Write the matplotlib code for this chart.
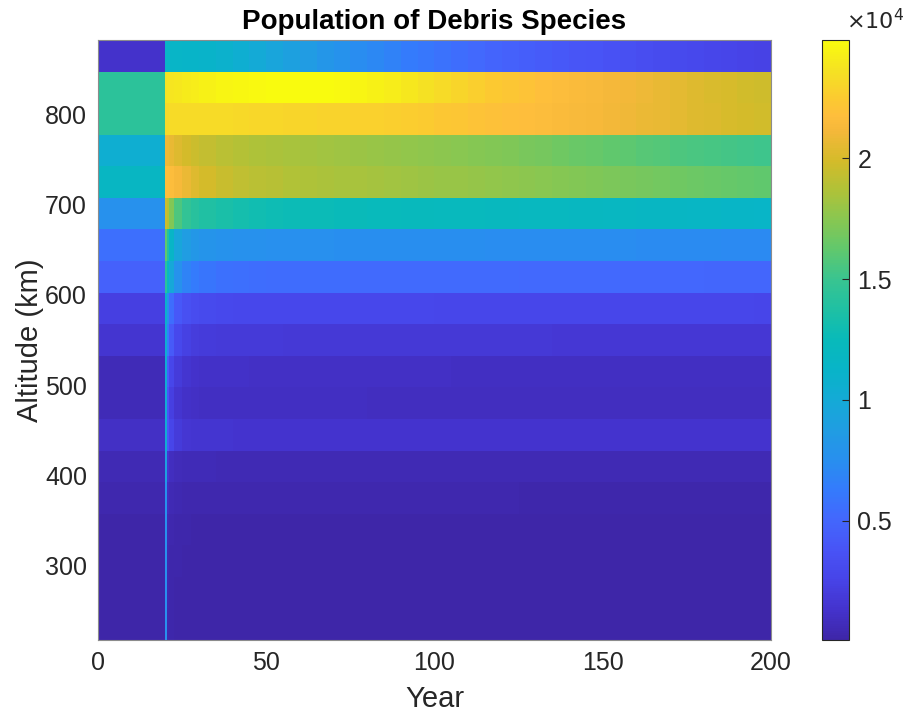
import numpy as np
import matplotlib
matplotlib.use("Agg")
import matplotlib.pyplot as plt
from matplotlib.colors import LinearSegmentedColormap

# ---------------- data ----------------
# altitude band centres (km), 35 km wide shells
altitudes = [235, 270, 305, 340, 375, 410, 445, 480, 515, 550,
             585, 620, 655, 690, 725, 760, 795, 830, 865]
band_width = 35

# time-column edges (years): initial state, launch spike, then evolution
year_edges = [0, 20, 20.4, 21, 22.5, 25, 27.5, 30, 35, 40, 45, 50, 55, 60,
              65, 70, 75, 80, 85, 90, 95, 100, 105, 110, 115, 120, 125, 130,
              135, 140, 145, 150, 155, 160, 165, 170, 175, 180, 185, 190, 195, 200]

# population per altitude band, one value per time column
pop_235 = [60, 7600, 300, 150, 100, 80, 70,
           65, 64, 63, 62, 61, 60, 60, 60, 59, 59, 59, 58, 58, 58, 57, 57, 57,
           56, 56, 56, 55, 55, 55, 54, 54, 54, 53, 53, 53, 52, 52, 52, 51, 51]
pop_270 = [80, 7600, 350, 180, 120, 100, 90,
           85, 84, 83, 82, 81, 80, 80, 80, 79, 79, 79, 78, 78, 78, 77, 77, 77,
           76, 76, 76, 75, 75, 75, 74, 74, 74, 73, 73, 73, 72, 72, 72, 71, 71]
pop_305 = [100, 7700, 400, 200, 150, 120, 110,
           105, 104, 103, 102, 101, 100, 100, 100, 99, 99, 99, 98, 98, 98, 97, 97, 97,
           96, 96, 96, 95, 95, 95, 94, 94, 94, 93, 93, 93, 92, 92, 92, 91, 91]
pop_340 = [130, 7700, 500, 260, 190, 160, 145,
           140, 138, 136, 135, 134, 133, 132, 132, 131, 131, 130, 130, 130, 129, 129, 128,
           128, 128, 127, 127, 126, 126, 126, 125, 125, 125, 124, 124, 124, 123, 123, 123, 122, 122]
pop_375 = [250, 7800, 900, 500, 350, 300, 280,
           270, 265, 262, 260, 258, 257, 256, 255, 254, 253, 252, 251, 250, 250, 249, 248,
           247, 246, 246, 245, 244, 244, 243, 242, 242, 241, 240, 240, 239, 238, 238, 237, 236, 236]
pop_410 = [480, 9000, 1500, 900, 700, 600, 560,
           540, 530, 520, 515, 512, 510, 508, 506, 504, 502, 500, 500, 498, 497, 496, 495,
           494, 493, 492, 491, 490, 490, 489, 488, 487, 486, 485, 485, 484, 483, 482, 481, 480, 480]
pop_445 = [1100, 10300, 4000, 2600, 1900, 1600, 1500,
           1450, 1420, 1400, 1390, 1385, 1380, 1378, 1375, 1372, 1370, 1368, 1365, 1362, 1360,
           1358, 1355, 1352, 1350, 1350, 1348, 1346, 1344, 1342, 1340, 1340, 1338, 1336, 1334,
           1332, 1330, 1330, 1328, 1326, 1324]
pop_480 = [550, 10200, 3800, 2200, 1500, 1200, 1050,
           1000, 980, 965, 955, 950, 945, 940, 935, 930, 925, 920, 918, 915, 912, 910, 908,
           905, 902, 900, 898, 895, 892, 890, 888, 885, 882, 880, 878, 875, 872, 870, 868, 865, 862]
pop_515 = [620, 10400, 4500, 2700, 1900, 1500, 1300,
           1200, 1150, 1120, 1100, 1090, 1080, 1070, 1060, 1055, 1050, 1045, 1040, 1035, 1030,
           1025, 1020, 1015, 1010, 1005, 1000, 1000, 995, 995, 990, 990, 985, 985, 980, 980,
           975, 975, 970, 970, 965]
pop_550 = [1500, 10500, 6500, 4200, 2900, 2300, 2050,
           1920, 1860, 1830, 1810, 1800, 1790, 1780, 1770, 1765, 1760, 1755, 1750, 1745, 1740,
           1735, 1730, 1725, 1720, 1715, 1710, 1705, 1700, 1700, 1695, 1690, 1690, 1685, 1680,
           1680, 1675, 1670, 1670, 1665, 1660]
pop_585 = [2200, 11000, 7800, 5400, 4100, 3500, 3200,
           3000, 2900, 2860, 2840, 2830, 2820, 2810, 2800, 2795, 2790, 2785, 2780, 2775, 2770,
           2765, 2760, 2755, 2750, 2745, 2740, 2735, 2730, 2725, 2720, 2715, 2710, 2705, 2700,
           2695, 2690, 2685, 2680, 2675, 2670]
pop_620 = [4700, 14400, 12000, 9800, 7800, 6800, 6300,
           5900, 5650, 5500, 5420, 5380, 5350, 5330, 5310, 5300, 5290, 5280, 5270, 5260, 5250,
           5240, 5230, 5220, 5210, 5200, 5190, 5180, 5170, 5150, 5130, 5110, 5090, 5070, 5050,
           5030, 5010, 4990, 4970, 4950, 4930]
pop_655 = [5500, 16200, 14000, 11500, 9600, 8700, 8300,
           8000, 7800, 7700, 7650, 7600, 7580, 7560, 7540, 7520, 7500, 7490, 7480, 7470, 7460,
           7450, 7440, 7430, 7420, 7410, 7400, 7390, 7380, 7370, 7360, 7350, 7340, 7320, 7300,
           7280, 7260, 7240, 7220, 7200, 7180]
pop_690 = [7700, 19700, 19000, 17300, 15600, 14700, 14200,
           13800, 13450, 13200, 13000, 12850, 12750, 12650, 12580, 12520, 12480, 12440, 12400,
           12360, 12320, 12280, 12240, 12200, 12160, 12120, 12080, 12040, 12000, 11960, 11920,
           11880, 11830, 11780, 11720, 11660, 11600, 11540, 11480, 11420, 11350]
pop_725 = [11700, 21700, 21700, 21600, 21300, 20800, 20300,
           19900, 19500, 19250, 19050, 18900, 18780, 18680, 18580, 18480, 18400, 18320, 18240,
           18160, 18080, 18000, 17920, 17840, 17760, 17680, 17600, 17500, 17400, 17300, 17200,
           17100, 17000, 16900, 16800, 16700, 16600, 16500, 16400, 16300, 16200]
pop_760 = [10500, 21000, 20900, 20700, 20300, 19900, 19600,
           19300, 19000, 18800, 18650, 18550, 18450, 18350, 18250, 18150, 18050, 17950, 17850,
           17750, 17650, 17550, 17450, 17350, 17250, 17150, 17000, 16850, 16700, 16550, 16400,
           16250, 16100, 15950, 15800, 15650, 15500, 15400, 15300, 15200, 15100]
pop_795 = [14400, 23200, 23200, 23250, 23250, 23300, 23300,
           23300, 23250, 23200, 23150, 23100, 23050, 23000, 22950, 22900, 22850, 22780, 22700,
           22600, 22480, 22350, 22200, 22050, 21900, 21800, 21700, 21600, 21500, 21400, 21250,
           21100, 20950, 20800, 20650, 20450, 20300, 20150, 20000, 19900, 19800]
pop_830 = [14400, 23700, 23750, 23800, 23900, 24050, 24200,
           24350, 24550, 24700, 24800, 24880, 24900, 24880, 24820, 24720, 24580, 24400, 24150,
           23900, 23600, 23300, 23000, 22700, 22450, 22200, 22000, 21800, 21650, 21500, 21350,
           21200, 21050, 20850, 20650, 20450, 20250, 20100, 19950, 19800, 19700]
pop_865 = [1250, 11400, 11400, 11380, 11350, 11300, 11250,
           11150, 10900, 10500, 10000, 9500, 9000, 8600, 8200, 7800, 7400, 7050, 6700, 6350,
           6000, 5700, 5400, 5150, 4900, 4650, 4450, 4250, 4050, 3900, 3750, 3600, 3450, 3300,
           3150, 3000, 2880, 2750, 2630, 2520, 2400]

cbar_ticks = [5000, 10000, 15000, 20000]
cbar_ticklabels = ["0.5", "1", "1.5", "2"]
y_ticks = [300, 400, 500, 600, 700, 800]
x_ticks = [0, 50, 100, 150, 200]

population = np.array([pop_235, pop_270, pop_305, pop_340, pop_375, pop_410,
                       pop_445, pop_480, pop_515, pop_550, pop_585, pop_620,
                       pop_655, pop_690, pop_725, pop_760, pop_795, pop_830,
                       pop_865], dtype=float)

alt = np.array(altitudes, dtype=float)
alt_edges = np.concatenate([alt - band_width / 2, [alt[-1] + band_width / 2]])

# ---------------- parula-like colormap ----------------
_anchors = [
    (0.00, (62, 38, 168)),
    (0.05, (68, 51, 205)),
    (0.10, (71, 68, 232)),
    (0.15, (72, 84, 246)),
    (0.20, (67, 103, 253)),
    (0.25, (52, 123, 252)),
    (0.30, (40, 143, 238)),
    (0.35, (32, 157, 226)),
    (0.40, (20, 170, 214)),
    (0.45, (8, 180, 200)),
    (0.50, (8, 186, 186)),
    (0.55, (30, 192, 164)),
    (0.60, (56, 196, 145)),
    (0.65, (95, 200, 110)),
    (0.70, (135, 199, 82)),
    (0.75, (175, 194, 56)),
    (0.80, (212, 187, 42)),
    (0.85, (245, 184, 58)),
    (0.875, (254, 190, 60)),
    (0.90, (252, 200, 50)),
    (0.95, (245, 225, 35)),
    (1.00, (249, 251, 14)),
]
parula = LinearSegmentedColormap.from_list(
    "parula", [(p, tuple(c / 255 for c in rgb)) for p, rgb in _anchors], N=256)

# ---------------- figure ----------------
plt.rcParams['font.family'] = ['Liberation Sans', 'DejaVu Sans']
fig = plt.figure(figsize=(9.07, 7.17), dpi=100)
ax = fig.add_axes([98 / 907, 1 - 640 / 717, (771 - 98) / 907, 600 / 717])
cax = fig.add_axes([822 / 907, 1 - 640 / 717, 27 / 907, 600 / 717])

mesh = ax.pcolormesh(year_edges, alt_edges, population, cmap=parula,
                     shading='flat', vmin=population.min(), vmax=population.max())
ax.set_xlim(0, 200)
ax.set_ylim(alt_edges[0], alt_edges[-1])
ax.set_xticks(x_ticks)
ax.set_yticks(y_ticks)
ax.tick_params(labelsize=18, length=0, pad=8, colors='#262626')
for s in ax.spines.values():
    s.set_color('#8c8c8c')
    s.set_linewidth(0.8)

ax.set_title('Population of Debris Species', fontsize=20, fontweight='bold', pad=8)
ax.set_xlabel('Year', fontsize=21, color='#262626', labelpad=7)
ax.set_ylabel('Altitude (km)', fontsize=21, color='#262626', labelpad=1)

cb = fig.colorbar(mesh, cax=cax)
cb.set_ticks(cbar_ticks)
cb.set_ticklabels(cbar_ticklabels)
cb.ax.tick_params(labelsize=18, direction='in', length=5, width=0.8,
                  colors='#262626', pad=6)
cb.outline.set_edgecolor('#262626')
cb.outline.set_linewidth(0.8)
fig.text(846 / 907, 1 - 22 / 717, r'$\times10^{4}$', fontsize=16,
         color='#262626', va='center', ha='left')

fig.savefig('out.png', dpi=100)
